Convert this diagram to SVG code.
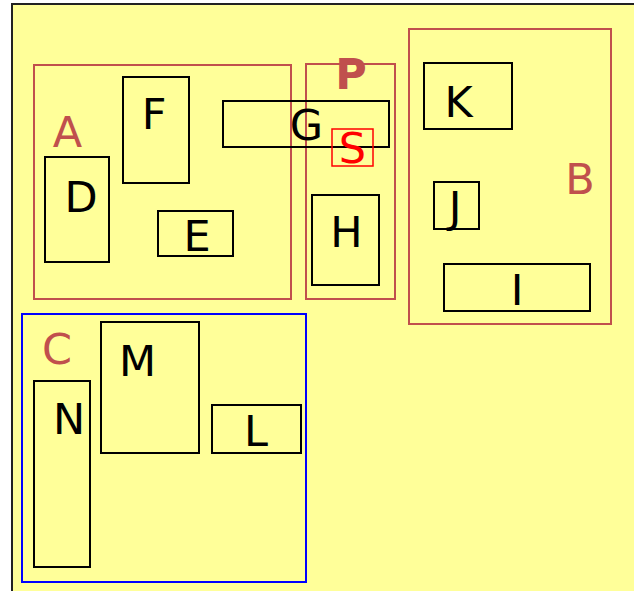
<svg xmlns="http://www.w3.org/2000/svg" width="634" height="591" viewBox="0 0 634 591">
<style>
.bg{fill:#ffff99;stroke:#222;stroke-width:2}
.grp{fill:none;stroke:#c0504d;stroke-width:2}
.blue{fill:none;stroke:#0000ff;stroke-width:2}
.box{fill:#ffff99;stroke:#000;stroke-width:2}
.t{font-family:"DejaVu Sans",Verdana,sans-serif;font-size:43px;text-anchor:middle;fill:#000}
.gl{fill:#c0504d}
</style>
<rect class="bg" x="12" y="4" width="640" height="600"/>
<g id="A"><rect class="grp" x="34" y="65" width="257" height="234"/><text class="t gl" x="67.5" y="147">A</text></g>
<g id="P"><rect class="grp" x="306" y="64" width="89" height="235"/><text class="t gl" x="351" y="89" font-weight="bold">P</text></g>
<g id="B"><rect class="grp" x="409" y="29" width="202" height="295"/><text class="t gl" x="580" y="194">B</text></g>
<g id="C"><rect class="blue" x="22" y="314" width="284" height="268"/><text class="t gl" x="57" y="364">C</text></g>
<g id="D"><rect class="box" x="45" y="157" width="64" height="105"/><text class="t" x="81" y="211.5">D</text></g>
<g id="F"><rect class="box" x="123" y="77" width="66" height="106"/><text class="t" x="154" y="129">F</text></g>
<g id="E"><rect class="box" x="158" y="211" width="75" height="45"/><text class="t" x="197" y="250.5">E</text></g>
<g id="G"><rect class="box" x="223" y="101" width="166" height="46" fill="none" style="fill:none"/><text class="t" x="306.5" y="140">G</text></g>
<g id="S"><rect x="332" y="129" width="41" height="37" fill="none" stroke="#ff0000" stroke-width="1.5"/><text class="t" x="352.5" y="163" fill="#ff0000" style="fill:#ff0000">S</text></g>
<g id="H"><rect class="box" x="312" y="195" width="67" height="90"/><text class="t" x="346.5" y="247">H</text></g>
<g id="K"><rect class="box" x="424" y="63" width="88" height="66"/><text class="t" x="458.5" y="116.5">K</text></g>
<g id="J"><rect class="box" x="434" y="182" width="45" height="47"/><text class="t" x="455" y="221.5">J</text></g>
<g id="I"><rect class="box" x="444" y="264" width="146" height="47"/><text class="t" x="517" y="305">I</text></g>
<g id="M"><rect class="box" x="101" y="322" width="98" height="131"/><text class="t" x="137.5" y="376">M</text></g>
<g id="N"><rect class="box" x="34" y="381" width="56" height="186"/><text class="t" x="69" y="434">N</text></g>
<g id="L"><rect class="box" x="212" y="405" width="89" height="48"/><text class="t" x="256" y="445.5">L</text></g>
<g id="connectors"></g>
</svg>
